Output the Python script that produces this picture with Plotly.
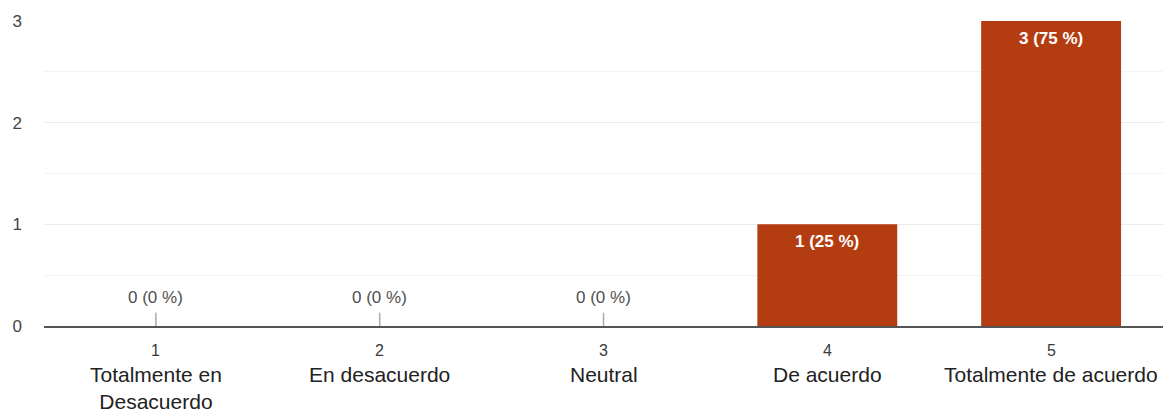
import plotly.graph_objects as go

categories = [1, 2, 3, 4, 5]
names = ["Totalmente en<br>Desacuerdo", "En desacuerdo", "Neutral", "De acuerdo", "Totalmente de acuerdo"]
counts = [0, 0, 0, 1, 3]
percents = [0, 0, 0, 25, 75]
y_ticks = [0, 1, 2, 3]

BAR = "#B43C11"
FONT = "Liberation Sans, Arial, sans-serif"

fig = go.Figure()
fig.add_trace(go.Bar(x=categories, y=counts, marker_color=BAR, marker_line_width=0,
                     hoverinfo="skip"))

annotations = []
shapes = []
for c, n, v, p in zip(categories, names, counts, percents):
    label = f"{v} ({p} %)"
    if v > 0:
        annotations.append(dict(x=c, y=v, xref="x", yref="y", text=f"<b>{label}</b>", showarrow=False,
                                yshift=-17, font=dict(family=FONT, size=17, color="white")))
    else:
        annotations.append(dict(x=c, y=v, xref="x", yref="y", text=label, showarrow=False,
                                yshift=29, font=dict(family=FONT, size=17, color="#505050")))
        shapes.append(dict(type="line", xref="x", yref="y", x0=c, x1=c, y0=v, y1=v + 0.13,
                           line=dict(color="#aaa", width=1.5)))
    annotations.append(dict(x=c, y=0, xref="x", yref="y", text=str(c), showarrow=False,
                            yshift=-24, font=dict(family=FONT, size=16, color="#3a3a3a")))
    annotations.append(dict(x=c, y=0, xref="x", yref="y", text=n, showarrow=False,
                            yanchor="top", yshift=-35, align="center",
                            font=dict(family=FONT, size=21, color="#222")))

fig.update_layout(
    width=1165, height=408,
    margin=dict(l=36, r=10, t=13, b=90),
    paper_bgcolor="white", plot_bgcolor="white",
    bargap=0.375, showlegend=False,
    annotations=annotations, shapes=shapes,
    font=dict(family=FONT),
    xaxis=dict(range=[0.5, 5.5], tickvals=categories, showticklabels=False, automargin=False,
               showgrid=False, zeroline=False, showline=True, linecolor="#555", linewidth=2,
               ticks=""),
    yaxis=dict(range=[0, 3], tickvals=y_ticks, showgrid=True, gridcolor="#ebebeb",
               zeroline=False, ticks="", ticklabelstandoff=21, automargin=False,
               tickfont=dict(family=FONT, size=17, color="#444"),
               minor=dict(dtick=0.5, showgrid=True, gridcolor="#f3f3f3")),
)

fig.write_html("out.html")
